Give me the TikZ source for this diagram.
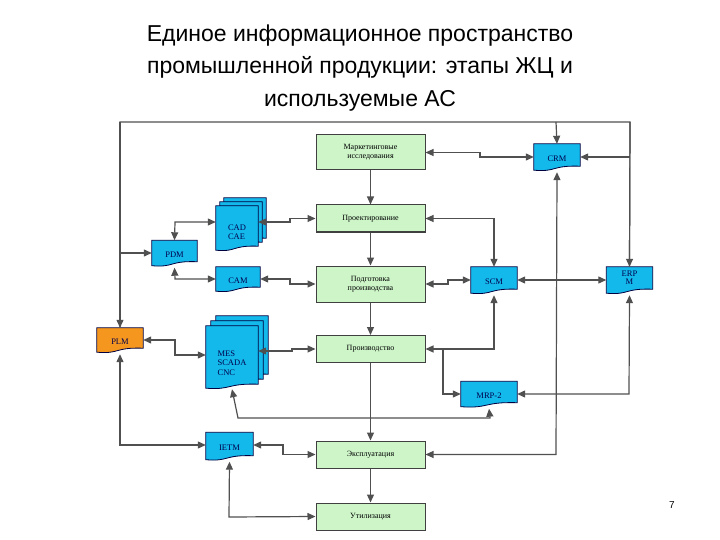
\documentclass[tikz,border=0pt]{standalone}
\usepackage{fontspec}
\setmainfont{Liberation Serif}
\newfontfamily\titlefont{Liberation Sans}
\usetikzlibrary{arrows.meta}
\definecolor{docblue}{RGB}{20,185,235}
\definecolor{boxgreen}{RGB}{205,245,200}
\definecolor{plmorange}{RGB}{245,150,30}
\definecolor{lin}{RGB}{80,80,80}
\newcommand\docpath[4]{%
  \fill[#2,draw=black!75!blue,line width=0.8pt] ([shift={(#3,#4)}]#1.north west) -- ([shift={(#3,#4)}]#1.north east) -- ([shift={(#3,#4-4)}]#1.south east) .. controls ([shift={(#3-6,#4-5)}]#1.south) and ([shift={(#3,#4+2)}]#1.south) .. ([shift={(#3,#4)}]#1.south west) -- cycle;}
\begin{document}
\begin{tikzpicture}[x=1pt,y=-1pt,
  box/.style={draw=black!75,fill=boxgreen,line width=1pt,minimum width=109pt,align=center,font=\fontsize{8}{9}\selectfont,inner sep=1pt},
  doc/.style={minimum width=#1,align=left,font=\fontsize{8.5}{9.5}\selectfont,text=blue!30!black,inner sep=2pt},
  ln/.style={lin,line width=1.2pt},
  a/.style={ln,-{Triangle[length=8pt,width=7pt]}},
  aa/.style={ln,{Triangle[length=8pt,width=7pt]}-{Triangle[length=8pt,width=7pt]}}]
\useasboundingbox (0,0) rectangle (720,540);
\node[font=\titlefont\fontsize{23}{32.5}\selectfont,align=center] (title) at (360,68) {Единое информационное пространство\\промышленной продукции: этапы ЖЦ и\\используемые АС};
\node[font=\titlefont\fontsize{10}{12}\selectfont] (pg) at (672,505) {7};
% green boxes
\node[box,minimum height=35pt] (mk) at (370.5,152.5) {Маркетинговые\\исследования};
\node[box,minimum height=27pt] (pr) at (370.5,218.5) {Проектирование};
\node[box,minimum height=36pt] (pp) at (370.5,284) {Подготовка\\производства};
\node[box,minimum height=27pt] (pz) at (370.5,349) {Производство};
\node[box,minimum height=27pt] (ex) at (370.5,454.5) {Эксплуатация};
\node[box,minimum height=27pt] (ut) at (370.5,516.5) {Утилизация};
% documents
\node[doc=46pt,minimum height=26pt] (crm) at (557,157) {};
\node[doc=46pt,minimum height=26pt] (scm) at (494,280) {};
\node[doc=46pt,minimum height=26pt] (erp) at (629.5,280) {};
\node[doc=45pt,minimum height=25pt] (pdm) at (174.5,253) {};
\node[doc=44pt,minimum height=24pt] (cam) at (238,279) {};
\node[doc=46pt,minimum height=24pt] (plm) at (120,340) {};
\node[doc=56pt,minimum height=25pt] (mrp) at (489,394) {};
\node[doc=47pt,minimum height=27pt] (ietm) at (229.5,446) {};
\node[doc=42pt,minimum height=44pt] (cad) at (237,228) {};
\node[doc=52pt,minimum height=62pt] (mes) at (232,357) {};
% stacked backs
\docpath{cad}{docblue}{8}{-8}\docpath{cad}{docblue}{4}{-4}
\docpath{mes}{docblue}{10}{-10}\docpath{mes}{docblue}{5}{-5}
\docpath{crm}{docblue}{0}{0}\docpath{scm}{docblue}{0}{0}\docpath{erp}{docblue}{0}{0}\docpath{pdm}{docblue}{0}{0}
\docpath{cam}{docblue}{0}{0}\docpath{plm}{plmorange}{0}{0}\docpath{mrp}{docblue}{0}{0}\docpath{ietm}{docblue}{0}{0}
\docpath{cad}{docblue}{0}{0}\docpath{mes}{docblue}{0}{0}
\node[doc=46pt] at ([yshift=-2]crm.center) {\hfil CRM};
\node[doc=46pt] at ([yshift=-2]scm.center) {\hfil SCM};
\node[doc=46pt,align=center,font=\fontsize{8.5}{8}\selectfont] at ([yshift=2]erp.center) {ERP\\M};
\node[doc=45pt] at ([yshift=-2]pdm.center) {PDM};
\node[doc=44pt] at ([yshift=-2]cam.center) {CAM};
\node[doc=46pt] at ([yshift=-2]plm.center) {PLM};
\node[doc=56pt] at ([yshift=-2]mrp.center) {\hfil MRP-2};
\node[doc=47pt] at ([yshift=-2]ietm.center) {IETM};
\node[doc=42pt] at ([yshift=-4]cad.center) {CAD\\CAE};
\node[doc=52pt] at ([yshift=-6]mes.center) {MES\\SCADA\\CNC};
% frame
\coordinate (tl) at (120,122); \coordinate (tr) at (630,122);
\draw[ln] (plm.north) -- (tl) -- (tr) -- (erp.north);
\draw[a] (tr) -- (erp.north);
\draw[a] (tl) -- (plm.north);
\draw[a] (556,122) -- (crm.north);
\draw[a] (120,253) -- (pdm.west);
\draw[a] (630,157) -- (crm.east);
% chain
\draw[a] (mk) -- (pr); \draw[a] (pr) -- (pp); \draw[a] (pp) -- (pz);
\draw[a] (pz) -- (ex); \draw[a] (ex) -- (ut);
% links
\draw[aa] (mk.east) -- (480,152.5) -- (480,157) -- (crm.west);
\draw[aa] (ex.east) -- (556,454.5) -- ([yshift=-2]crm.south);
\draw[aa] (scm.east) -- (erp.west);
\draw[aa] (mrp.east |- 0,394) -- (629,394) -- ([yshift=-2]erp.south);
\draw[aa] (pr.east) -- (494,218.5) -- (scm.north);
\draw[aa] (pp.east) -- (448,284) -- (448,280) -- (scm.west);
\draw[aa] (pz.east) -- (494,349) -- ([yshift=-2]scm.south);
\draw[a] (443,349) -- (443,394) -- (mrp.west);
\draw[aa] ([yshift=-1]mes.south) -- (238,418) -- (490,418) -- ([yshift=-2]mrp.south);
\draw[aa] (mes.east |- 0,351) -- (292,351) -- (292,349) -- (pz.west);
\draw[aa] (plm.east) -- (175,340) -- (175,355) -- (mes.west |- 0,355);
\draw[aa] ([yshift=-2]plm.south) -- (120,445) -- (ietm.west |- 0,445);
\draw[aa] (ietm.east |- 0,445) -- (283,445) -- (283,454.5) -- (ex.west);
\draw[aa] ([yshift=-2]ietm.south) -- (229,517) -- (ut.west);
\draw[aa] (pdm.north) -- (175,222) -- (cad.west |- 0,222);
\draw[aa] ([yshift=-2]pdm.south) -- (175,279) -- (cam.west |- 0,279);
\draw[aa] (cad.east |- 0,222) -- (290,222) -- (290,218.5) -- (pr.west);
\draw[aa] (cam.east |- 0,279) -- (290,279) -- (290,284) -- (pp.west);
\end{tikzpicture}
\end{document}
